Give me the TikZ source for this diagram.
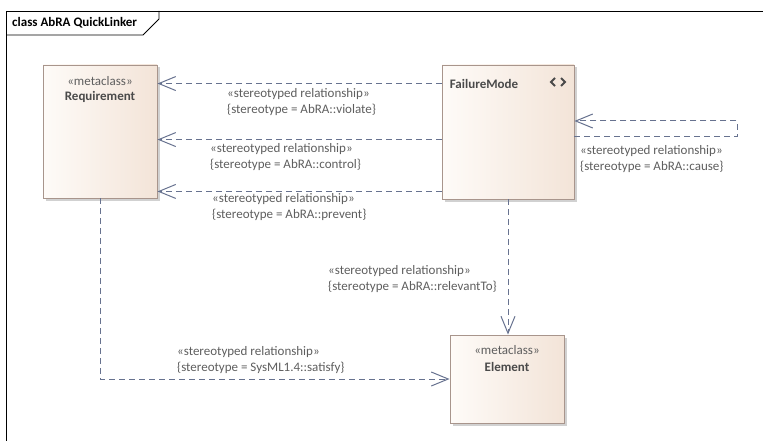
\documentclass[tikz,border=0pt]{standalone}
\usepackage{fontspec}
\setmainfont{Carlito}
\usetikzlibrary{arrows.meta,shadows,positioning}
\definecolor{linkblue}{HTML}{67728F}
\definecolor{boxedge}{HTML}{A8958C}
\definecolor{boxleft}{HTML}{FEFBF8}
\definecolor{boxright}{HTML}{F3E4D8}
\definecolor{labelgrey}{HTML}{5E5E5E}
\definecolor{titlegrey}{HTML}{4A4A4A}
\begin{document}
\begin{tikzpicture}[x=1pt,y=-1pt,
    font=\fontsize{13}{16}\selectfont,
    metabox/.style={draw=boxedge,line width=0.9pt,shading=axis,left color=boxleft,right color=boxright,
      shading angle=90,drop shadow={shadow xshift=2.5pt,shadow yshift=-2.5pt,fill=black!30,opacity=0.6}},
    rel/.style={draw=linkblue,line width=1pt,dash pattern=on 6pt off 4pt,
      -{Straight Barb[length=17pt,width=14pt,line width=1pt]}},
    rellabel/.style={text=labelgrey,align=left,anchor=north west,inner sep=0pt},
    boxtitle/.style={text=titlegrey,font=\fontsize{13}{16}\selectfont\bfseries,inner sep=0pt},
    boxstereo/.style={text=labelgrey,inner sep=0pt}]
\useasboundingbox (0,0) rectangle (763,441);
% frame
\draw[line width=0.9pt] (6,441) -- (6,11) -- (763,11);
\draw[line width=0.9pt] (6,35) -- (143,35) -- (159,19) -- (159,11);
\node[boxtitle,text=black,anchor=west] (frametitle) at (12,23) {class AbRA QuickLinker};
% classes
\node[metabox,minimum width=114,minimum height=133] (Req) at (100,131.5) {};
\node[boxstereo] (Req-st) at (100,81) {«metaclass»};
\node[boxtitle] (Req-name) at (100,97) {Requirement};
\node[metabox,minimum width=132,minimum height=134] (FM) at (508,132) {};
\node[boxtitle] (FM-name) at (484,84) {FailureMode};
\draw[titlegrey,line width=1.8pt] (555,78) -- (551,82) -- (555,86);
\draw[titlegrey,line width=1.8pt] (561,78) -- (565,82) -- (561,86);
\node[metabox,minimum width=114,minimum height=88] (Elem) at (507,379) {};
\node[boxstereo] (Elem-st) at (507,350) {«metaclass»};
\node[boxtitle] (Elem-name) at (507,367) {Element};
% relationships
\draw[rel] ([yshift=-19pt]FM.north west) -- ([yshift=-19pt]FM.north west -| Req.east);
\node[rellabel] (violate) at (227,88) {«stereotyped relationship»\\{\{}stereotype = AbRA::violate{\}}};
\draw[rel] ([yshift=-75pt]FM.north west) -- ([yshift=-75pt]FM.north west -| Req.east);
\node[rellabel] (control) at (210,143) {«stereotyped relationship»\\{\{}stereotype = AbRA::control{\}}};
\draw[rel] ([yshift=8pt]FM.south west) -- ([yshift=8pt]FM.south west -| Req.east);
\node[rellabel] (prevent) at (212,193) {«stereotyped relationship»\\{\{}stereotype = AbRA::prevent{\}}};
\coordinate (loopA) at ([yshift=-5pt]FM.east);
\draw[rel] (loopA) -- ++(163,0) -- ++(0,-16) -- ([yshift=11pt]FM.east);
\node[rellabel] (cause) at (580,145) {«stereotyped relationship»\\{\{}stereotype = AbRA::cause{\}}};
\draw[rel] (FM.south) -- (FM.south |- Elem.north);
\node[rellabel] (relevant) at (328,265) {«stereotyped relationship»\\{\{}stereotype = AbRA::relevantTo{\}}};
\draw[rel] (Req.south) |- (Elem.west);
\node[rellabel] (satisfy) at (177,346) {«stereotyped relationship»\\{\{}stereotype = SysML1.4::satisfy{\}}};
\end{tikzpicture}
\end{document}
